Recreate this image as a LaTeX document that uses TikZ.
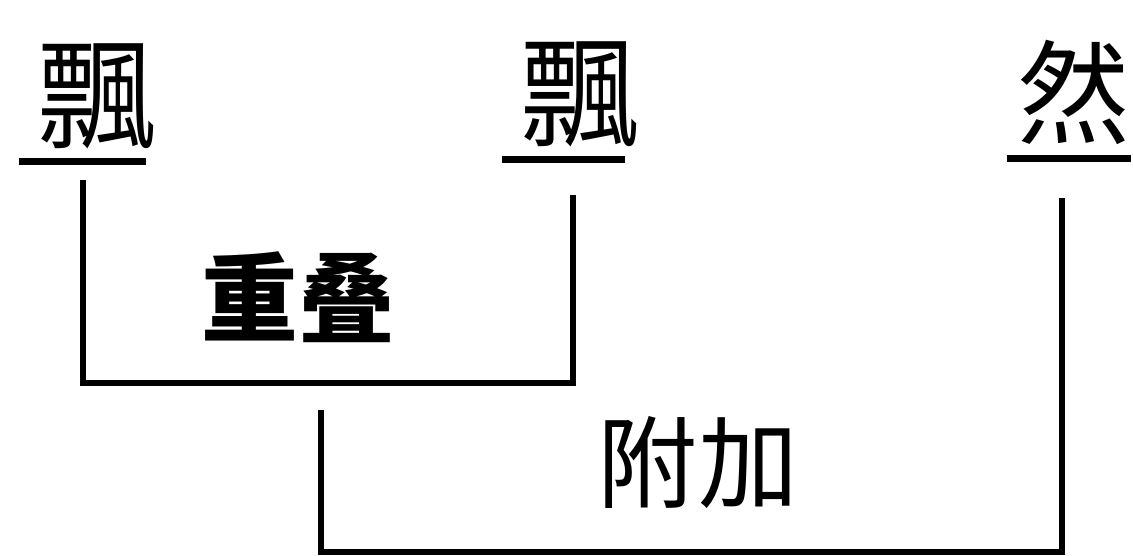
\documentclass[tikz,border=0pt]{standalone}
\usepackage{fontspec}
\newfontfamily\cjk{Noto Sans CJK SC}
\usetikzlibrary{positioning}

\begin{document}
\begin{tikzpicture}[
  x=0.02cm, y=-0.02cm,
  zi/.style={font=\cjk\fontsize{68}{68}\selectfont, inner sep=0pt},
  term/.style={font=\cjk\bfseries\fontsize{55}{55}\selectfont, inner sep=0pt},
  kind/.style={font=\cjk\fontsize{57}{57}\selectfont, inner sep=0pt},
  uline/.style={line width=0.14cm},
  bracket/.style={line width=0.11cm},
]
\useasboundingbox (0,0) rectangle (1133,555);

\node[zi] (piao1) at (98,96)  {飄};
\node[zi] (piao2) at (581,94) {飄};
\node[zi, font=\cjk\fontsize{64}{64}\selectfont] (ran) at (1074,92) {然};

\draw[uline] (19,161)   -- (146,161);
\draw[uline] (502,159)  -- (625,159);
\draw[uline] (1007,158) -- (1131,158);

\coordinate (dieL) at (83,180);
\coordinate (dieR) at (573,195);
\coordinate (dieB) at (300,383);
\coordinate (jiaL) at (321,410);
\coordinate (jiaR) at (1062,198);
\coordinate (jiaB) at (700,552);

\draw[bracket] (dieL) |- (dieB) -| (dieR);
\draw[bracket] (jiaL) |- (jiaB) -| (jiaR);

\node[term] (die) at (298,297) {重叠};
\node[kind] (jia) at (698,463) {附加};

\end{tikzpicture}
\end{document}
